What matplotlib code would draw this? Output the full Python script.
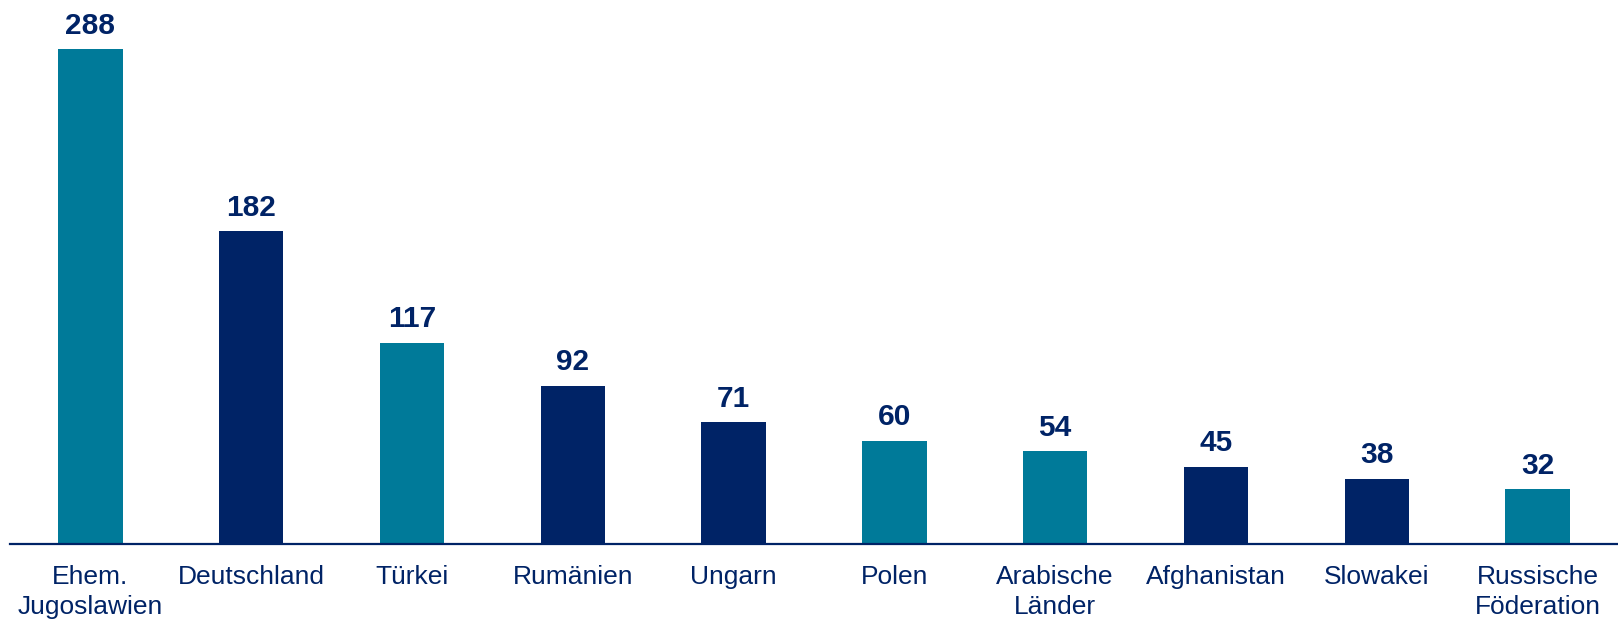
import matplotlib
matplotlib.use("Agg")
import matplotlib.pyplot as plt

categories = ["Ehem.\nJugoslawien", "Deutschland", "Türkei", "Rumänien", "Ungarn",
              "Polen", "Arabische\nLänder", "Afghanistan", "Slowakei", "Russische\nFöderation"]
values = [288, 182, 117, 92, 71, 60, 54, 45, 38, 32]
TEAL = "#007A99"
NAVY = "#002366"
colors = [TEAL, NAVY, TEAL, NAVY, NAVY, TEAL, TEAL, NAVY, NAVY, TEAL]

plt.rcParams['font.family'] = ['Liberation Sans', 'DejaVu Sans']
fig = plt.figure(figsize=(16.18, 6.2), dpi=100)
ax = fig.add_axes([10/1618, 76/620, 1608/1618, 544/620])
x = list(range(len(values)))
ax.bar(x, values, width=0.40, color=colors)
for xi, v in zip(x, values):
    ax.text(xi, v + 5.5, str(v), ha='center', va='bottom', fontsize=21.5,
            fontweight='bold', color=NAVY)
ax.set_xlim(-0.5, 9.5)
ax.set_ylim(0, 316.5)
ax.set_xticks(x)
ax.set_xticklabels(categories, fontsize=19, color=NAVY, linespacing=1.3)
ax.tick_params(axis='x', length=0, pad=15)
ax.set_yticks([])
for s in ['top', 'right', 'left']:
    ax.spines[s].set_visible(False)
ax.spines['bottom'].set_color(NAVY)
ax.spines['bottom'].set_linewidth(1.6)
fig.savefig("out.png", dpi=100)
